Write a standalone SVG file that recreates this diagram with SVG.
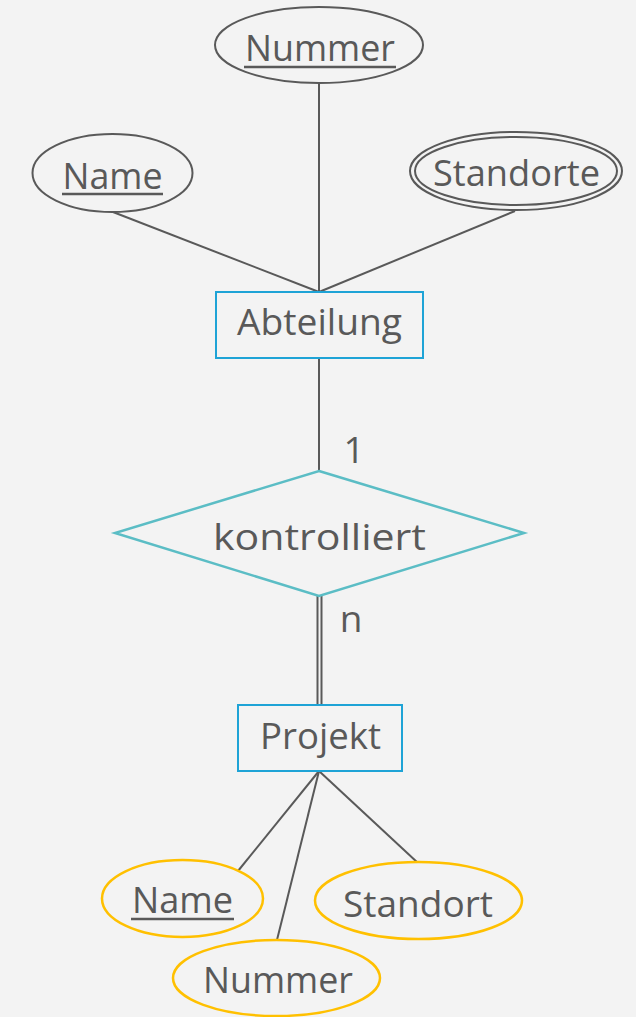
<svg xmlns="http://www.w3.org/2000/svg" width="636" height="1017" viewBox="0 0 636 1017">
<style>
text{font-family:"Open Sans","Noto Sans","Liberation Sans",sans-serif;fill:#595959;font-size:37px;text-anchor:middle}
.ln{stroke:#595959;stroke-width:2;fill:none}
.attr{fill:#f3f3f3;stroke:#595959;stroke-width:2}
.pattr{fill:#f3f3f3;stroke:#ffc000;stroke-width:2.5}
.ent{fill:#f3f3f3;stroke:#1ea3d6;stroke-width:2}
.rel{fill:#f3f3f3;stroke:#5bbdc5;stroke-width:2.5}
.ul{stroke:#595959;stroke-width:2.5}
</style>
<rect width="636" height="1017" fill="#f3f3f3"/>
<g id="connectors">
<line class="ln" x1="319" y1="83" x2="319" y2="292"/>
<line class="ln" x1="113" y1="212" x2="319" y2="292"/>
<line class="ln" x1="515" y1="211" x2="319" y2="292"/>
<line class="ln" x1="319" y1="358" x2="319" y2="471"/>
<line class="ln" x1="317.5" y1="596" x2="317.5" y2="705"/>
<line class="ln" x1="321.5" y1="596" x2="321.5" y2="705"/>
<line class="ln" x1="319" y1="771" x2="238" y2="871"/>
<line class="ln" x1="319" y1="771" x2="277" y2="940"/>
<line class="ln" x1="319" y1="771" x2="418" y2="863"/>
<text x="354" y="463" font-size="40">1</text>
<text x="351" y="632" font-size="40">n</text>
</g>
<g id="attr-nummer">
<ellipse class="attr" cx="319" cy="45" rx="104" ry="38"/>
<text x="320" y="61" textLength="150" lengthAdjust="spacingAndGlyphs">Nummer</text>
<line class="ul" x1="244" y1="67" x2="396" y2="67"/>
</g>
<g id="attr-name">
<ellipse class="attr" cx="112.5" cy="173" rx="80" ry="39"/>
<text x="112.5" y="189" textLength="100" lengthAdjust="spacingAndGlyphs">Name</text>
<line class="ul" x1="62" y1="194" x2="163" y2="194"/>
</g>
<g id="attr-standorte">
<ellipse class="attr" cx="516" cy="171" rx="106" ry="39"/>
<ellipse class="attr" cx="516" cy="171" rx="101" ry="34"/>
<text x="516.5" y="186" textLength="167" lengthAdjust="spacingAndGlyphs">Standorte</text>
</g>
<g id="ent-abteilung">
<rect class="ent" x="216" y="292" width="207" height="66"/>
<text x="319.5" y="335" textLength="165" lengthAdjust="spacingAndGlyphs">Abteilung</text>
</g>
<g id="rel-kontrolliert">
<polygon class="rel" points="319,471 524,533 319,596 115,533"/>
<text x="319.5" y="550" font-size="43" textLength="213" lengthAdjust="spacingAndGlyphs">kontrolliert</text>
</g>
<g id="ent-projekt">
<rect class="ent" x="238" y="705" width="164" height="66"/>
<text x="320.5" y="749" textLength="121" lengthAdjust="spacingAndGlyphs">Projekt</text>
</g>
<g id="pattr-name">
<ellipse class="pattr" cx="182.5" cy="898.5" rx="80.5" ry="38.5"/>
<text x="182.5" y="913" textLength="101" lengthAdjust="spacingAndGlyphs">Name</text>
<line class="ul" x1="131" y1="919" x2="234" y2="919"/>
</g>
<g id="pattr-standort">
<ellipse class="pattr" cx="418.5" cy="900.5" rx="103.5" ry="38.5"/>
<text x="418" y="917" textLength="150" lengthAdjust="spacingAndGlyphs">Standort</text>
</g>
<g id="pattr-nummer">
<ellipse class="pattr" cx="276.5" cy="978" rx="103.5" ry="38"/>
<text x="278" y="993" textLength="150" lengthAdjust="spacingAndGlyphs">Nummer</text>
</g>
</svg>
